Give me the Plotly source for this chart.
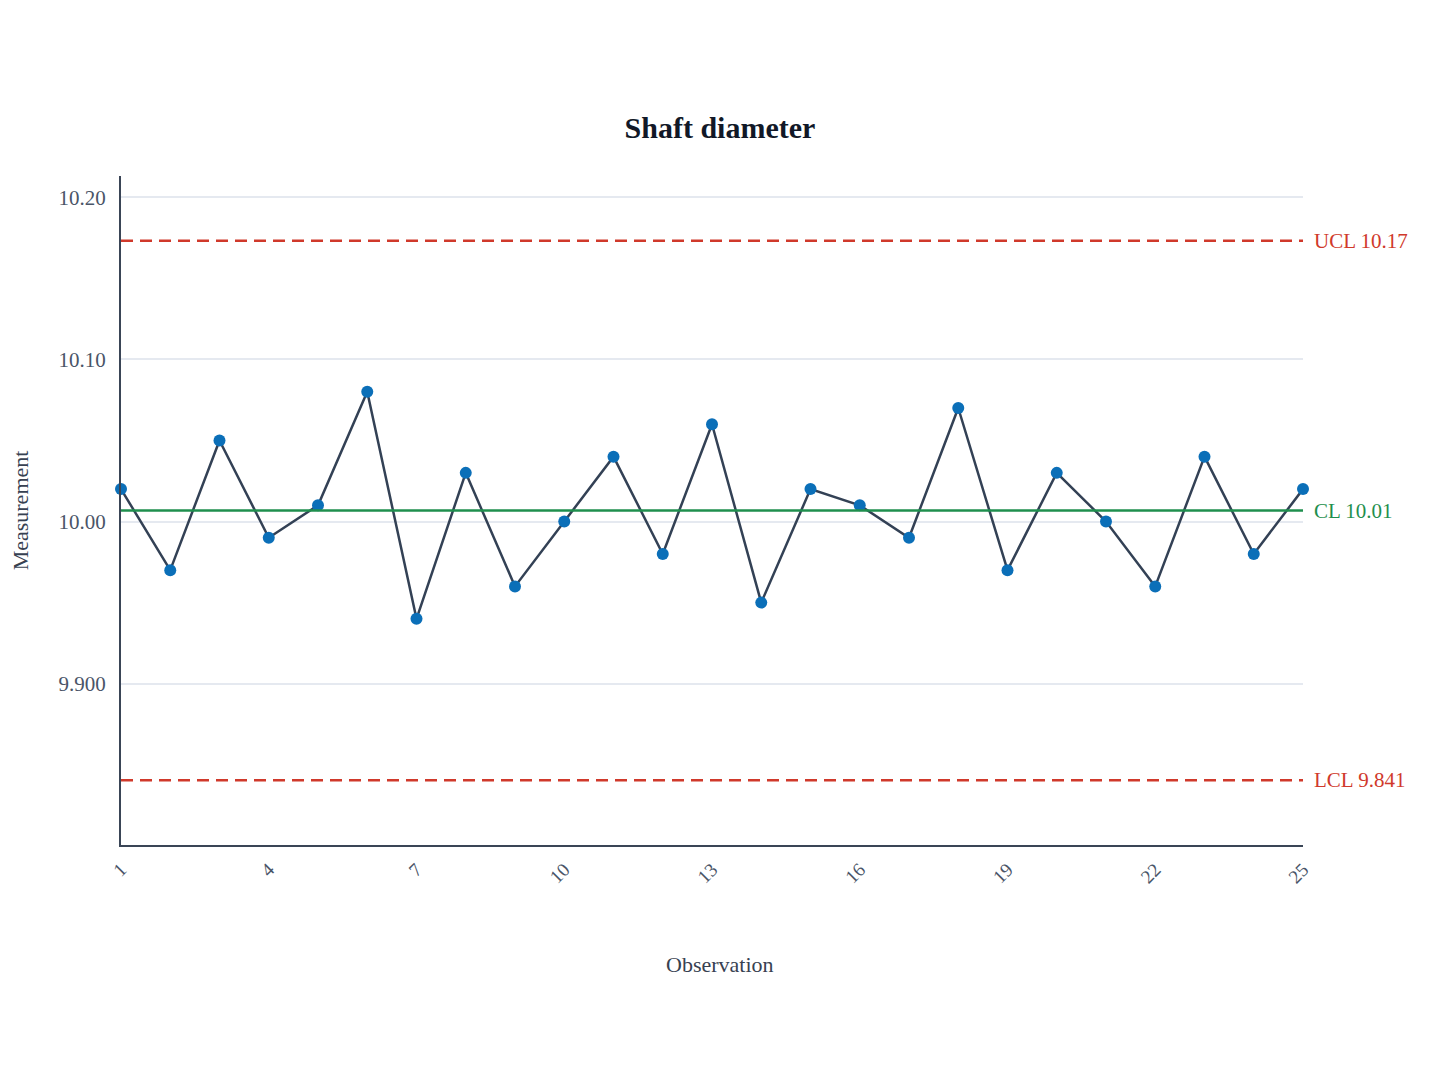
import numpy as np
import plotly.graph_objects as go

# individual measurements of the shaft diameter
observations = list(range(1, 26))
measurements = [10.02, 9.97, 10.05, 9.99, 10.01, 10.08, 9.94, 10.03, 9.96, 10.00,
                10.04, 9.98, 10.06, 9.95, 10.02, 10.01, 9.99, 10.07, 9.97, 10.03,
                10.00, 9.96, 10.04, 9.98, 10.02]

# I-chart limits from the average moving range
x = np.array(measurements)
center = x.mean()
mr_bar = np.abs(np.diff(x)).mean()
ucl = center + 2.66 * mr_bar
lcl = center - 2.66 * mr_bar

FONT = "Liberation Serif"
RED = "#d0392b"
GREEN = "#1f8f4e"

fig = go.Figure()

fig.add_trace(go.Scatter(
    x=observations,
    y=measurements,
    mode="lines+markers",
    line=dict(color="#334155", width=2.5),
    marker=dict(color="#0b6fb8", size=12),
    cliponaxis=False,
    showlegend=False,
))

limits = [
    (ucl, "UCL", RED, "12px,7px"),
    (center, "CL", GREEN, "solid"),
    (lcl, "LCL", RED, "12px,7px"),
]
for val, name, color, dash in limits:
    fig.add_shape(type="line", xref="paper", x0=0, x1=1, y0=val, y1=val,
                  line=dict(color=color, width=2.5, dash=dash))
    fig.add_annotation(xref="paper", x=1, y=val, xanchor="left", xshift=9,
                       text=f"{name} {val:.4g}", showarrow=False,
                       font=dict(family=FONT, size=21, color=color))

# x axis title, centred on the page rather than the plot area
fig.add_annotation(xref="paper", yref="paper", x=0.5068, y=-0.178,
                   xanchor="center", yanchor="middle", showarrow=False,
                   text="Observation", font=dict(family=FONT, size=22, color="#374151"))

fig.update_layout(
    width=1440, height=1080,
    paper_bgcolor="white", plot_bgcolor="white",
    margin=dict(l=113, r=145, t=168, b=243),
    font=dict(family=FONT, size=21, color="#4a5568"),
    title=dict(text="<b>Shaft diameter</b>", x=0.4944, xanchor="center", y=0.889,
               yanchor="middle", font=dict(family=FONT, size=30, color="#111827")),
)
fig.update_xaxes(
    range=[1, 25], tickmode="linear", tick0=1, dtick=3, tickangle=-45,
    tickfont=dict(size=19),
    showgrid=False, zeroline=False, showline=True, linecolor="#3a4556",
    linewidth=2, ticklabelstandoff=4, automargin=False,
)
fig.update_yaxes(
    range=[lcl - 0.04, ucl + 0.04], dtick=0.1, tick0=9.9, tickformat=".4r",
    showgrid=True, gridcolor="#e5e9f0", gridwidth=1.5, zeroline=False,
    showline=True, linecolor="#3a4556", linewidth=2, ticklabelstandoff=9,
    automargin=False,
    title=dict(text="Measurement", font=dict(size=22, color="#374151"), standoff=24),
)

fig.write_html("out.html")
